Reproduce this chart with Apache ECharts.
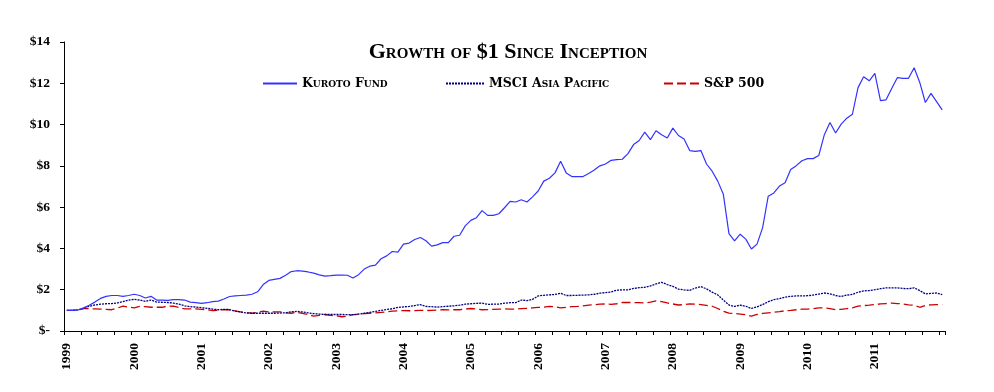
<!DOCTYPE html>
<html>
<head>
<meta charset="utf-8">
<script src="https://cdn.jsdelivr.net/npm/echarts@6/dist/echarts.min.js"></script>
<style>
html,body{margin:0;padding:0;background:#fff;}
#chart{width:994px;height:392px;}
</style>
</head>
<body>
<div id="chart"></div>
<script>
// Year labels (one per January); monthly categories Jan 1999 .. Jan 2012
const years = ['1999','2000','2001','2002','2003','2004','2005','2006','2007','2008','2009','2010','2011'];
const seriesNames = ['Kuroto Fund', 'MSCI Asia Pacific', 'S&P 500'];
const yTickLabels = ['$-', '$2', '$4', '$6', '$8', '$10', '$12', '$14'];

const kuroto = [
  1.00,1.00,1.02,1.12,1.25,1.40,1.58,1.68,1.72,1.72,1.68,1.72,
  1.78,1.72,1.60,1.68,1.50,1.50,1.48,1.52,1.52,1.50,1.40,1.37,
  1.34,1.37,1.42,1.45,1.55,1.67,1.70,1.72,1.74,1.78,1.90,2.25,
  2.45,2.50,2.55,2.70,2.88,2.92,2.90,2.86,2.80,2.72,2.66,2.68,
  2.71,2.71,2.70,2.57,2.73,3.00,3.14,3.19,3.50,3.64,3.85,3.82,
  4.21,4.26,4.43,4.53,4.37,4.11,4.17,4.28,4.28,4.59,4.64,5.09,
  5.36,5.49,5.83,5.60,5.60,5.68,5.97,6.28,6.25,6.36,6.25,6.50,
  6.78,7.26,7.40,7.66,8.22,7.66,7.48,7.48,7.48,7.63,7.80,8.00,
  8.09,8.27,8.30,8.32,8.59,9.03,9.23,9.63,9.27,9.70,9.51,9.35,
  9.83,9.47,9.30,8.74,8.70,8.74,8.09,7.74,7.26,6.62,4.72,4.37,
  4.69,4.45,3.97,4.21,5.01,6.53,6.69,7.02,7.18,7.82,8.01,8.25,
  8.35,8.35,8.50,9.51,10.10,9.59,10.02,10.31,10.50,11.79,12.32,12.12,
  12.48,11.16,11.20,11.75,12.27,12.24,12.24,12.75,12.04,11.07,11.51,11.11,
  10.71
];
const msci = [
  1.00,1.00,1.02,1.10,1.20,1.26,1.30,1.32,1.33,1.36,1.42,1.50,
  1.53,1.50,1.44,1.50,1.40,1.39,1.38,1.35,1.30,1.22,1.18,1.16,
  1.13,1.10,1.06,1.03,1.05,1.04,0.96,0.92,0.87,0.86,0.86,0.86,
  0.86,0.86,0.87,0.88,0.93,0.95,0.92,0.88,0.84,0.82,0.80,0.80,
  0.80,0.80,0.79,0.79,0.82,0.86,0.90,0.95,1.00,1.04,1.08,1.14,
  1.17,1.19,1.23,1.28,1.19,1.18,1.16,1.18,1.20,1.22,1.25,1.30,
  1.32,1.34,1.35,1.29,1.30,1.30,1.35,1.37,1.37,1.50,1.47,1.53,
  1.70,1.73,1.75,1.77,1.83,1.72,1.72,1.73,1.74,1.75,1.78,1.83,
  1.86,1.89,1.98,1.99,1.99,2.06,2.10,2.12,2.18,2.28,2.36,2.25,
  2.16,2.03,1.99,1.97,2.08,2.15,2.04,1.88,1.75,1.50,1.26,1.19,
  1.25,1.20,1.09,1.17,1.28,1.42,1.52,1.57,1.64,1.68,1.70,1.70,
  1.71,1.74,1.79,1.84,1.80,1.72,1.67,1.74,1.77,1.88,1.94,1.96,
  2.00,2.05,2.09,2.09,2.09,2.06,2.05,2.09,1.96,1.80,1.82,1.84,
  1.76
];
const sp500 = [
  1.00,1.00,1.02,1.08,1.08,1.07,1.06,1.05,1.03,1.11,1.20,1.16,
  1.12,1.19,1.18,1.15,1.15,1.15,1.21,1.20,1.14,1.07,1.07,1.07,
  1.05,1.03,0.99,1.01,1.03,1.03,0.98,0.93,0.89,0.86,0.90,0.96,
  0.93,0.93,0.93,0.88,0.86,0.91,0.85,0.80,0.72,0.76,0.80,0.76,
  0.74,0.69,0.72,0.79,0.81,0.84,0.86,0.88,0.90,0.93,0.96,0.98,
  0.99,0.98,0.99,1.00,0.99,1.00,1.01,1.03,1.02,1.03,1.03,1.06,
  1.09,1.06,1.03,1.04,1.05,1.06,1.07,1.06,1.06,1.08,1.10,1.12,
  1.14,1.16,1.19,1.17,1.12,1.15,1.18,1.19,1.22,1.25,1.27,1.30,
  1.31,1.29,1.32,1.38,1.38,1.38,1.37,1.36,1.40,1.46,1.42,1.36,
  1.31,1.26,1.28,1.31,1.30,1.28,1.24,1.20,1.09,0.95,0.87,0.85,
  0.82,0.79,0.72,0.80,0.85,0.88,0.91,0.94,0.98,1.00,1.03,1.06,
  1.06,1.08,1.12,1.12,1.08,1.03,1.05,1.08,1.12,1.20,1.23,1.25,
  1.28,1.31,1.33,1.35,1.33,1.31,1.27,1.25,1.15,1.24,1.27,1.28,
  1.28
];

const months = ['01','02','03','04','05','06','07','08','09','10','11','12'];
const categories = [];
years.forEach(y => months.forEach(m => categories.push(y + '-' + m)));
categories.push('2012-01');

const FONT = '"Liberation Serif", "Times New Roman", serif';
const LFONT = '"DejaVu Serif", serif';
const chart = echarts.init(document.getElementById('chart'), null, {renderer: 'canvas'});

const legendText = {fontFamily: LFONT, fontWeight: 'bold', fontStyle: 'small-caps', fontSize: 12.5, color: '#000'};
const legendCommon = {top: 72, itemHeight: 12, itemGap: 4, itemStyle: {opacity: 0}, textStyle: legendText};

chart.setOption({
  backgroundColor: '#ffffff',
  animation: false,
  title: {
    text: 'Growth of $1 Since Inception',
    left: 503,
    textAlign: 'center',
    top: 36,
    textStyle: {fontFamily: FONT, fontWeight: 'bold', fontStyle: 'small-caps', fontSize: 22, color: '#000'}
  },
  legend: [
    Object.assign({data: [seriesNames[0]], left: 257, itemWidth: 34}, legendCommon),
    Object.assign({data: [seriesNames[1]], left: 440, itemWidth: 38}, legendCommon),
    Object.assign({data: [seriesNames[2]], left: 658, itemWidth: 35}, legendCommon)
  ],
  grid: {left: 64, right: 49, top: 42, bottom: 61, containLabel: false},
  xAxis: {
    type: 'category',
    data: categories,
    boundaryGap: true,
    axisLine: {lineStyle: {color: '#000', width: 1}},
    axisTick: {show: true, interval: 2, length: 4, inside: false, lineStyle: {color: '#000'}},
    axisLabel: {
      interval: (idx, v) => v.slice(5) === '01' && years.indexOf(v.slice(0, 4)) >= 0,
      rotate: 90,
      margin: 12,
      fontFamily: FONT, fontWeight: 'bold', fontSize: 13.5, color: '#000',
      formatter: v => v.slice(0, 4)
    },
    splitLine: {show: false}
  },
  yAxis: {
    type: 'value',
    min: 0, max: 14, interval: 2,
    axisLine: {show: true, lineStyle: {color: '#000', width: 1}},
    axisTick: {show: true, length: 4, lineStyle: {color: '#000'}},
    axisLabel: {
      margin: 14,
      fontFamily: FONT, fontWeight: 'bold', fontSize: 13.5, color: '#000',
      formatter: v => yTickLabels[Math.round(v / 2)]
    },
    splitLine: {show: false}
  },
  series: [
    {name: seriesNames[0], type: 'line', data: kuroto, symbol: 'none', smooth: false,
     lineStyle: {color: '#3333ff', width: 1.2, type: 'solid'}, itemStyle: {color: '#3333ff'}, z: 3},
    {name: seriesNames[1], type: 'line', data: msci, symbol: 'none',
     lineStyle: {color: '#000080', width: 1.3, type: [2, 1]}, itemStyle: {color: '#000080'}, z: 2},
    {name: seriesNames[2], type: 'line', data: sp500, symbol: 'none',
     lineStyle: {color: '#cc0000', width: 1.3, type: [9, 4]}, itemStyle: {color: '#cc0000'}, z: 1}
  ]
});
</script>
</body>
</html>
